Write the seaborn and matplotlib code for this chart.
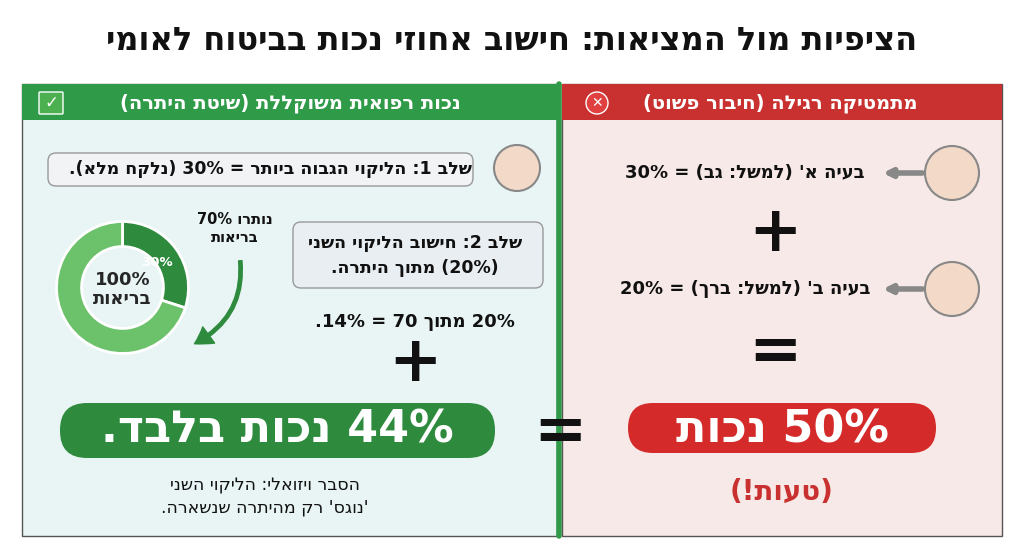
import re
import matplotlib
matplotlib.use("Agg")
import matplotlib.pyplot as plt
import seaborn as sns
from matplotlib.patches import FancyBboxPatch, Rectangle, Circle

sns.set_theme(style="white")
plt.rcParams['font.family'] = ['DejaVu Sans']

donut_labels = ["30%", "70%"]
donut_values = [30, 70]
donut_colors = ["#2e8b3e", "#6cc26a"]
first_injury = 30
second_injury = 20
naive_total = 50
weighted_total = 44

def rtl(s):
    r = s[::-1]
    r = re.sub(r"[0-9%]+", lambda m: m.group(0)[::-1], r)
    r = r.translate(str.maketrans("()", ")("))
    return r

fig = plt.figure(figsize=(10.24, 5.59), dpi=100)
fig.patch.set_facecolor("white")
ax = fig.add_axes([0, 0, 1, 1])
ax.set_xlim(0, 1024); ax.set_ylim(559, 0); ax.axis("off")

def T(x, y, s, size, color="#111", ha="center", weight="bold", **kw):
    ax.text(x, y, rtl(s), fontsize=size, color=color, ha=ha, va="center", fontweight=weight, **kw)

T(512, 42, "הציפיות מול המציאות: חישוב אחוזי נכות בביטוח לאומי", 23)

ax.add_patch(Rectangle((22, 84), 535, 452, fc="#e8f5f4", ec="#555", lw=1))
ax.add_patch(Rectangle((562, 84), 440, 452, fc="#f7e9e7", ec="#555", lw=1))
ax.add_patch(Rectangle((22, 84), 535, 36, fc="#2f9a47", ec="none"))
ax.add_patch(Rectangle((562, 84), 440, 36, fc="#c8312f", ec="none"))
ax.plot([559, 559], [84, 536], color="#2f9a47", lw=4)
T(290, 103, "נכות רפואית משוקללת (שיטת היתרה)", 14, "white")
T(780, 103, "מתמטיקה רגילה (חיבור פשוט)", 14, "white")
ax.add_patch(FancyBboxPatch((40, 93), 22, 20, boxstyle="round,pad=1", fc="#4cb050", ec="white"))
ax.text(51, 103, "✓", color="white", fontsize=12, ha="center", va="center", fontweight="bold")
ax.add_patch(Circle((597, 103), 11, fc="#e04040", ec="white"))
ax.text(597, 103, "✕", color="white", fontsize=10, ha="center", va="center", fontweight="bold")

for yy in (173, 289):
    ax.add_patch(Circle((952, yy), 27, fc="#f2d9c8", ec="#888", lw=1.5))
    ax.annotate("", xy=(880, yy), xytext=(925, yy), arrowprops=dict(arrowstyle="-|>", color="#888", lw=4))
T(745, 173, f"בעיה א' (למשל: גב) = {first_injury}%", 13)
T(745, 289, f"בעיה ב' (למשל: ברך) = {second_injury}%", 13)
T(775, 233, "+", 46)
T(775, 352, "=", 46)
ax.add_patch(FancyBboxPatch((628, 403), 308, 50, boxstyle="round,pad=0,rounding_size=25", fc="#d42a2a", ec="none"))
T(782, 430, f"{naive_total}% נכות", 32, "white")
T(782, 492, "(טעות!)", 20, "#c8312f")

ax.add_patch(FancyBboxPatch((48, 153), 425, 33, boxstyle="round,pad=0,rounding_size=8", fc="#f1f3f5", ec="#999"))
T(270, 169, f"שלב 1: הליקוי הגבוה ביותר = {first_injury}% (נלקח מלא).", 12.5)
ax.add_patch(Circle((517, 168), 23, fc="#f2d9c8", ec="#888", lw=1.5))
ax.add_patch(FancyBboxPatch((293, 222), 250, 66, boxstyle="round,pad=0,rounding_size=8", fc="#e9eef2", ec="#999"))
T(415, 243, "שלב 2: חישוב הליקוי השני", 12.5)
T(415, 268, f"({second_injury}%) מתוך היתרה.", 12.5)
T(415, 322, f"{second_injury}% מתוך 70 = 14%.", 13)
T(415, 363, "+", 46)
T(235, 220, "נותרו 70%", 10.5)
T(235, 238, "בריאות", 10.5)
ax.annotate("", xy=(192, 345), xytext=(240, 258),
            arrowprops=dict(arrowstyle="simple,head_width=1.2,head_length=1", color="#2e8b3e",
                            connectionstyle="arc3,rad=-0.35"))
ax.add_patch(FancyBboxPatch((60, 403), 435, 55, boxstyle="round,pad=0,rounding_size=27", fc="#2e8b3e", ec="none"))
T(277, 430, f"{weighted_total}% נכות בלבד.", 32, "white")
T(265, 485, "הסבר ויזואלי: הליקוי השני", 12.5, weight="normal")
T(265, 508, "'נוגס' רק מהיתרה שנשארה.", 12.5, weight="normal")
T(560, 432, "=", 46)

dax = fig.add_axes([40/1024, 1-370/559, 165/1024, 165/559])
dax.pie(donut_values, colors=donut_colors, startangle=90, counterclock=False,
        wedgeprops=dict(width=0.38, edgecolor="white", linewidth=2))
dax.text(0.52, 0.38, donut_labels[0], ha="center", va="center", color="white", fontsize=9.5, fontweight="bold")
dax.text(0, 0.12, "100%", ha="center", va="center", fontsize=13, fontweight="bold")
dax.text(0, -0.18, rtl("בריאות"), ha="center", va="center", fontsize=13, fontweight="bold")
dax.set_aspect("equal")

fig.savefig("out.png", dpi=100)
